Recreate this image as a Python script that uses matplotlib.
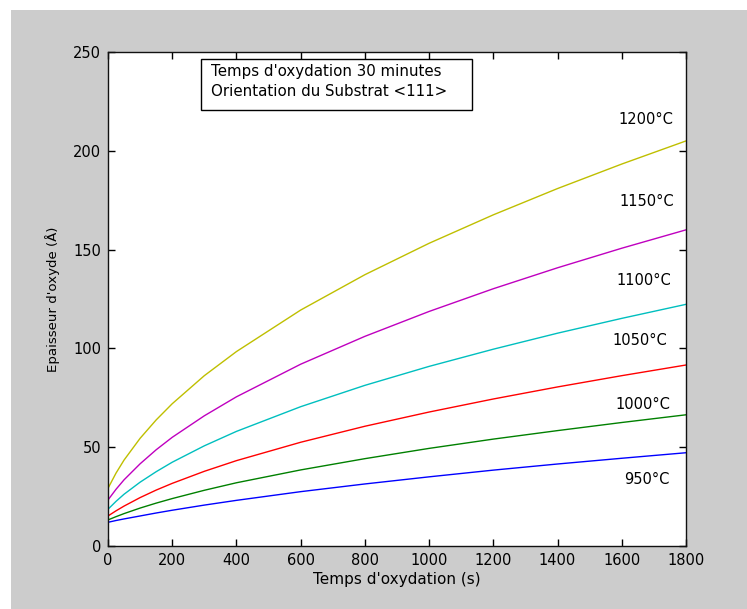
import matplotlib
matplotlib.use("Agg")
import matplotlib.pyplot as plt
from matplotlib.patches import Rectangle

# temps d'oxydation (s) et epaisseurs (Angstrom)
t = [0, 25, 50, 100, 150, 200, 300, 400, 600, 800, 1000, 1200, 1400, 1600, 1800]
ep_950 = [12.0, 12.9, 13.7, 15.2, 16.7, 18.1, 20.7, 23.1, 27.5, 31.4, 35.0, 38.4, 41.5, 44.4, 47.2]
ep_1000 = [13.2, 14.85, 16.4, 19.2, 21.7, 24.0, 28.2, 32.0, 38.5, 44.2, 49.4, 54.1, 58.4, 62.5, 66.4]
ep_1050 = [15.2, 17.8, 20.2, 24.5, 28.3, 31.7, 37.8, 43.2, 52.5, 60.6, 67.8, 74.4, 80.5, 86.2, 91.6]
ep_1100 = [18.6, 22.6, 26.2, 32.3, 37.6, 42.4, 50.7, 58.0, 70.5, 81.3, 90.9, 99.6, 107.7, 115.2, 122.3]
ep_1150 = [23.3, 28.7, 33.5, 41.6, 48.7, 55.0, 65.9, 75.5, 92.0, 106.1, 118.7, 130.2, 140.8, 150.7, 160.0]
ep_1200 = [29.2, 36.9, 43.5, 54.5, 63.8, 72.0, 86.2, 98.4, 119.4, 137.3, 153.2, 167.6, 180.9, 193.3, 205.0]

labels = ["950°C", "1000°C", "1050°C", "1100°C", "1150°C", "1200°C"]
label_x = [1678, 1665, 1657, 1668, 1677, 1674]
label_y = [33.9, 71.4, 104.2, 134.3, 174.2, 215.6]

# ordre de couleurs matlab
colors = [(0, 0, 1), (0, 0.5, 0), (1, 0, 0), (0, 0.75, 0.75), (0.75, 0, 0.75), (0.75, 0.75, 0)]

plt.rcParams['font.family'] = ['DejaVu Sans']

fig = plt.figure(figsize=(7.47, 6.09), dpi=100, facecolor='white')
fig.patches.append(Rectangle((11 / 747, 0), 1, 1 - 10 / 609, transform=fig.transFigure,
                             facecolor='#cccccc', edgecolor='none', zorder=-10))

ax = fig.add_axes([108 / 747, 1 - 546 / 609, 578 / 747, 494 / 609])
ax.set_facecolor('white')

series = [ep_950, ep_1000, ep_1050, ep_1100, ep_1150, ep_1200]
for k in range(len(series)):
    ax.plot(t, series[k], color=colors[k], lw=1.0)
    ax.text(label_x[k], label_y[k], labels[k], ha='center', va='center', fontsize=10.5)

ax.set_xlim(0, 1800)
ax.set_ylim(0, 250)
ax.set_xticks(range(0, 1801, 200))
ax.set_yticks(range(0, 251, 50))
ax.tick_params(direction='in', top=True, right=True, length=5, width=1, labelsize=10.5, pad=5)
for s in ax.spines.values():
    s.set_linewidth(1.0)
    s.set_color('#111111')

ax.set_xlabel("Temps d'oxydation (s)", fontsize=11, labelpad=3)
ax.set_ylabel("Epaisseur d'oxyde (Å)", fontsize=9.6, labelpad=9)

# cadre d'info
ax.add_patch(Rectangle((0.161, 0.883), 0.469, 0.103, transform=ax.transAxes,
                       facecolor='white', edgecolor='black', lw=1.0, zorder=5))
ax.text(0.179, 0.960, "Temps d'oxydation 30 minutes", transform=ax.transAxes,
        ha='left', va='center', fontsize=10.8, zorder=6)
ax.text(0.179, 0.921, "Orientation du Substrat <111>", transform=ax.transAxes,
        ha='left', va='center', fontsize=10.8, zorder=6)

fig.savefig("out.png", dpi=100, facecolor=fig.get_facecolor())
